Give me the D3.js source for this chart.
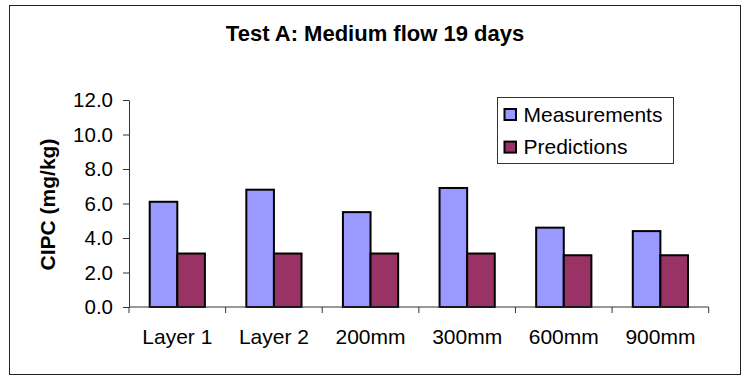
<!DOCTYPE html>
<html>
<head>
<meta charset="utf-8">
<script src="https://cdn.jsdelivr.net/npm/d3@7"></script>
<style>
  html, body { margin: 0; padding: 0; background: #fff; }
  svg { display: block; font-family: Arial, "Liberation Sans", sans-serif; }
</style>
</head>
<body>
<svg id="chart" width="746" height="376"></svg>
<script>
// CIPC concentration per sampling location, measured vs predicted
const categories = ["Layer 1", "Layer 2", "200mm", "300mm", "600mm", "900mm"];
const seriesNames = ["Measurements", "Predictions"];
const measurements = [6.1, 6.8, 5.5, 6.9, 4.6, 4.4];
const predictions = [3.1, 3.1, 3.1, 3.1, 3.0, 3.0];
const yTicks = [0, 2, 4, 6, 8, 10, 12];
const colors = ["#9999FF", "#993366"];

const svg = d3.select("#chart");

// outer chart frame
svg.append("rect")
  .attr("x", 9.5).attr("y", 5.5)
  .attr("width", 731).attr("height", 369)
  .attr("fill", "#fff").attr("stroke", "#222").attr("stroke-width", 1);

// title
svg.append("text")
  .attr("x", 375).attr("y", 40.5)
  .attr("text-anchor", "middle")
  .attr("font-size", 22).attr("font-weight", "bold")
  .text("Test A: Medium flow 19 days");

const plot = { left: 129, right: 708.7, top: 100, bottom: 307 };

const y = d3.scaleLinear().domain([0, 12]).range([plot.bottom, plot.top]);
const x0 = d3.scaleBand().domain(categories).range([plot.left, plot.right]).padding(0);
const x1 = d3.scaleBand().domain(seriesNames).range([0, x0.bandwidth()])
  .paddingInner(0).paddingOuter(0.75);

const rows = categories.map((c, i) => ({
  cat: c,
  vals: [
    { s: seriesNames[0], v: measurements[i], color: colors[0] },
    { s: seriesNames[1], v: predictions[i], color: colors[1] }
  ]
}));

// bars
svg.append("g").selectAll("g")
  .data(rows).join("g")
  .attr("transform", d => `translate(${x0(d.cat)},0)`)
  .selectAll("rect")
  .data(d => d.vals).join("rect")
  .attr("x", d => x1(d.s))
  .attr("y", d => y(d.v))
  .attr("width", x1.bandwidth())
  .attr("height", d => y(0) - y(d.v))
  .attr("fill", d => d.color)
  .attr("stroke", "#000").attr("stroke-width", 2);

// y axis
const yAxis = svg.append("g")
  .attr("transform", `translate(${plot.left},0)`)
  .call(d3.axisLeft(y).tickValues(yTicks).tickFormat(d3.format(".1f"))
    .tickSize(6).tickSizeOuter(0).tickPadding(10));
yAxis.select(".domain").attr("stroke", "#333");
yAxis.selectAll(".tick line").attr("stroke", "#333");
yAxis.selectAll(".tick text")
  .attr("font-size", 20.5).attr("fill", "#000")
  .attr("font-family", "Arial, 'Liberation Sans', sans-serif");

// x axis: ticks at category boundaries
const bounds = categories.map(c => x0(c)).concat([plot.right]);
const xAxis = svg.append("g").attr("transform", `translate(0,${plot.bottom})`);
xAxis.append("line")
  .attr("x1", plot.left).attr("x2", plot.right)
  .attr("stroke", "#333");
xAxis.selectAll("line.tk").data(bounds).join("line")
  .attr("class", "tk")
  .attr("x1", d => d).attr("x2", d => d)
  .attr("y1", 0).attr("y2", 6)
  .attr("stroke", "#333");
xAxis.selectAll("text").data(categories).join("text")
  .attr("x", d => x0(d) + x0.bandwidth() / 2)
  .attr("y", 37)
  .attr("text-anchor", "middle")
  .attr("font-size", 21)
  .text(d => d);

// y axis title
svg.append("text")
  .attr("transform", `translate(55,${(plot.top + plot.bottom) / 2 + 1}) rotate(-90)`)
  .attr("text-anchor", "middle")
  .attr("font-size", 21).attr("font-weight", "bold")
  .text("CIPC (mg/kg)");

// legend
const legend = svg.append("g");
legend.append("rect")
  .attr("x", 497.5).attr("y", 97.5)
  .attr("width", 176).attr("height", 66)
  .attr("fill", "#fff").attr("stroke", "#333").attr("stroke-width", 1);
const items = legend.selectAll("g.item").data(seriesNames).join("g")
  .attr("class", "item")
  .attr("transform", (d, i) => `translate(0,${i * 32.6})`);
items.append("rect")
  .attr("x", 504.5).attr("y", 109)
  .attr("width", 11.5).attr("height", 11)
  .attr("fill", (d, i) => colors[i])
  .attr("stroke", "#000").attr("stroke-width", 2);
items.append("text")
  .attr("x", 523.5).attr("y", 121.7)
  .attr("font-size", 21)
  .text(d => d);
</script>
</body>
</html>
